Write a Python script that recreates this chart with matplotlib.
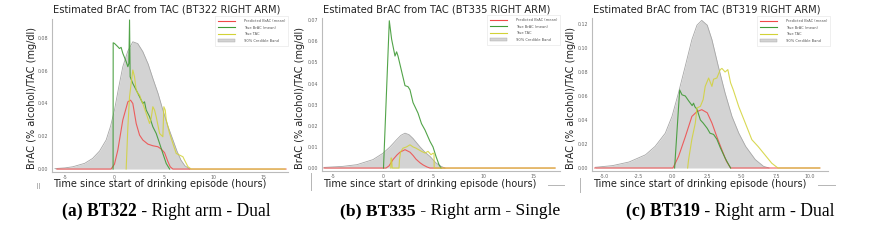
import matplotlib
matplotlib.use('Agg')
import matplotlib.pyplot as plt
from matplotlib.lines import Line2D
from matplotlib.patches import Patch
from matplotlib.ticker import FormatStrFormatter

# ---------------- data ----------------
subjects = ["BT322", "BT335", "BT319"]
captions_bold = ["(a) BT322", "(b) BT335", "(c) BT319"]
captions_rest = [" - Right arm - Dual", " - Right arm - Single", " - Right arm - Dual"]
legend_labels = ["Predicted BrAC (mean)", "True BrAC (mean)", "True TAC", "90% Credible Band"]

# BT322
band1_x = [-6.0, -5.0, -4.2, -3.0, -2.2, -1.5, -0.84, -0.4, 0.0, 0.4, 0.84, 1.35, 1.85, 2.35, 2.86, 3.4, 3.87, 4.4, 4.88, 5.4, 5.9, 6.3, 6.7, 7.1, 7.6]
band1_y = [0.0003, 0.0007, 0.0014, 0.0035, 0.0065, 0.011, 0.0177, 0.026, 0.036, 0.049, 0.0624, 0.072, 0.0776, 0.0765, 0.0716, 0.064, 0.0553, 0.046, 0.036, 0.026, 0.0177, 0.011, 0.0055, 0.002, 0.0]
red1_x = [-5.8, -0.34, 0.0, 0.34, 0.84, 1.35, 1.62, 1.85, 2.19, 2.53, 2.86, 3.37, 3.87, 4.38, 4.71, 5.05, 5.39, 5.62, 5.89, 17.3]
red1_y = [0.0, 0.0, 0.003, 0.0116, 0.0299, 0.041, 0.042, 0.040, 0.0278, 0.0207, 0.0177, 0.0152, 0.0142, 0.0136, 0.0122, 0.0100, 0.0045, 0.0014, 0.0, 0.0]
green1_x = [-0.14, -0.13, 0.0, 0.34, 0.5, 0.67, 0.84, 1.18, 1.35, 1.45, 1.52, 1.58, 1.85, 2.19, 2.53, 2.86, 3.03, 3.2, 3.54, 3.87, 4.21, 4.55, 4.88, 5.22, 5.56]
green1_y = [0.0, 0.077, 0.0766, 0.0746, 0.0735, 0.0742, 0.0706, 0.0655, 0.0624, 0.0644, 0.0909, 0.0563, 0.0522, 0.0482, 0.0441, 0.0400, 0.041, 0.0360, 0.0319, 0.0258, 0.0217, 0.0156, 0.0095, 0.0034, 0.0]
yellow1_x = [1.18, 1.35, 1.52, 1.68, 1.85, 2.02, 2.19, 2.36, 2.53, 2.69, 2.86, 3.2, 3.54, 3.7, 3.87, 4.04, 4.21, 4.55, 4.88, 4.98, 5.12, 5.22, 5.56, 5.89, 6.23, 6.57, 6.9, 7.07, 7.41, 7.74, 17.2]
yellow1_y = [0.0, 0.0254, 0.0441, 0.0522, 0.0604, 0.0563, 0.0482, 0.0461, 0.0451, 0.0421, 0.0400, 0.0339, 0.0278, 0.0309, 0.038, 0.036, 0.0319, 0.0217, 0.0197, 0.038, 0.036, 0.0299, 0.0217, 0.0156, 0.0095, 0.0085, 0.0075, 0.0054, 0.0014, 0.0, 0.0]

# BT335
band2_x = [-5.9, -4.0, -2.6, -1.0, 0.0, 0.7, 1.36, 1.8, 2.2, 2.6, 3.0, 3.7, 4.2, 4.7, 5.3, 5.8, 6.2]
band2_y = [0.0003, 0.0008, 0.0016, 0.004, 0.007, 0.010, 0.0134, 0.0155, 0.0165, 0.0158, 0.014, 0.010, 0.0075, 0.0055, 0.0024, 0.0008, 0.0]
red2_x = [-5.9, 0.3, 0.6, 1.0, 1.4, 1.7, 2.2, 2.7, 3.0, 3.3, 3.7, 4.0, 4.4, 4.7, 17.2]
red2_y = [0.0, 0.0, 0.001, 0.004, 0.0062, 0.0075, 0.0087, 0.0075, 0.006, 0.0042, 0.0025, 0.0015, 0.0005, 0.0, 0.0]
green2_x = [0.05, 0.63, 0.86, 1.2, 1.36, 1.5, 1.85, 2.2, 2.5, 2.7, 3.0, 3.5, 3.85, 4.2, 4.7, 5.0, 5.3, 5.6, 5.8]
green2_y = [0.0, 0.0697, 0.061, 0.053, 0.055, 0.053, 0.046, 0.039, 0.0385, 0.037, 0.031, 0.026, 0.021, 0.018, 0.0126, 0.010, 0.0055, 0.0016, 0.0]
yellow2_x = [0.78, 0.8, 0.86, 0.92, 1.6, 1.65, 1.75, 2.0, 2.35, 2.7, 3.0, 3.3, 3.85, 4.2, 4.5, 4.8, 5.0, 5.1, 5.12, 17.2]
yellow2_y = [0.0, 0.0047, 0.0047, 0.0, 0.0, 0.004, 0.0075, 0.0094, 0.010, 0.011, 0.010, 0.0094, 0.0079, 0.0071, 0.0079, 0.0063, 0.007, 0.007, 0.0, 0.0]

# BT319
band3_x = [-5.65, -4.4, -3.2, -2.0, -1.3, -0.56, -0.07, 0.4, 0.9, 1.38, 1.75, 2.1, 2.5, 2.84, 3.3, 3.8, 4.3, 4.8, 5.3, 6.0, 6.6, 7.0]
band3_y = [0.0006, 0.002, 0.005, 0.011, 0.018, 0.029, 0.043, 0.0625, 0.085, 0.107, 0.119, 0.123, 0.119, 0.107, 0.085, 0.0625, 0.043, 0.029, 0.018, 0.007, 0.0014, 0.0]
red3_x = [-5.7, 0.0, 0.17, 0.41, 0.9, 1.38, 1.75, 2.1, 2.5, 2.84, 3.2, 3.57, 3.9, 4.2, 10.7]
red3_y = [0.0, 0.0, 0.004, 0.0097, 0.026, 0.043, 0.047, 0.0486, 0.046, 0.0375, 0.026, 0.015, 0.0056, 0.0, 0.0]
green3_x = [0.12, 0.49, 0.66, 0.9, 1.14, 1.4, 1.5, 1.6, 1.75, 2.0, 2.2, 2.5, 2.7, 2.96, 3.2, 3.45, 3.8, 4.05, 4.2]
green3_y = [0.0, 0.065, 0.061, 0.060, 0.056, 0.052, 0.054, 0.051, 0.049, 0.040, 0.0375, 0.033, 0.029, 0.028, 0.024, 0.017, 0.0083, 0.003, 0.0]
yellow3_x = [1.07, 1.14, 1.38, 1.63, 1.75, 2.0, 2.2, 2.35, 2.6, 2.84, 2.96, 3.2, 3.45, 3.57, 3.8, 4.0, 4.2, 4.4, 4.8, 5.27, 5.75, 6.2, 6.7, 7.2, 7.65, 10.7]
yellow3_y = [0.0, 0.007, 0.024, 0.0375, 0.050, 0.0514, 0.057, 0.068, 0.075, 0.068, 0.074, 0.075, 0.082, 0.083, 0.080, 0.082, 0.071, 0.065, 0.051, 0.0375, 0.0236, 0.018, 0.011, 0.004, 0.0, 0.0]

xticks1 = [-5, 0, 5, 10, 15]
xticks2 = [-5, 0, 5, 10, 15]
xticks3 = [-5, -2.5, 0, 2.5, 5, 7.5, 10]
yticks1 = [0.00, 0.02, 0.04, 0.06, 0.08]
yticks2 = [0.00, 0.01, 0.02, 0.03, 0.04, 0.05, 0.06, 0.07]
yticks3 = [0.00, 0.02, 0.04, 0.06, 0.08, 0.10, 0.12]

series = [
    (band1_x, band1_y, red1_x, red1_y, green1_x, green1_y, yellow1_x, yellow1_y, xticks1, yticks1),
    (band2_x, band2_y, red2_x, red2_y, green2_x, green2_y, yellow2_x, yellow2_y, xticks2, yticks2),
    (band3_x, band3_y, red3_x, red3_y, green3_x, green3_y, yellow3_x, yellow3_y, xticks3, yticks3),
]

# ---------------- layout (pixels) ----------------
W, H = 876, 240
fig = plt.figure(figsize=(W / 100, H / 100), dpi=100)
fig.patch.set_facecolor('white')
renderer = fig.canvas.get_renderer()

def fx(px):
    return px / W

def fy(py):
    return 1 - py / H

# left, right, top, bottom (px), xlim, ylim, xtick fmt, ylabel x, legend right/top
panels = [
    dict(box=(52, 288, 19, 172), xlim=(-6.3, 17.5), ylim=(-0.0018, 0.0915), xfmt='%d', ylx=32, leg=(290, 14), capx=166),
    dict(box=(322, 560, 18, 171), xlim=(-6.1, 17.7), ylim=(-0.0014, 0.0710), xfmt='%d', ylx=300, leg=(562, 13), capx=449.5),
    dict(box=(592, 828, 18, 171), xlim=(-5.9, 11.3), ylim=(-0.0025, 0.125), xfmt='%.1f', ylx=571, leg=(832, 14), capx=730.5),
]
cap_widths = [208, 219, 209]

C_RED = '#f04848'
C_GREEN = '#3f9a35'
C_YEL = '#d2d236'
C_BAND = '#d3d3d3'
C_BAND_EDGE = '#a6a6a6'

def fit_width(t, target):
    bb = t.get_window_extent(renderer)
    t.set_fontsize(t.get_fontsize() * target / bb.width)

def fit_height(t, target):
    bb = t.get_window_extent(renderer)
    t.set_fontsize(t.get_fontsize() * target / bb.height)

for i, (p, s) in enumerate(zip(panels, series)):
    bx, by, rx, ry, gx, gy, yx, yy, xt, yt = s
    l, r, t, b = p['box']
    ax = fig.add_axes([fx(l), fy(b), (r - l) / W, (b - t) / H])
    ax.set_facecolor('white')
    ax.fill_between(bx, 0, by, color=C_BAND, lw=0, zorder=1)
    ax.plot(bx, by, color=C_BAND_EDGE, lw=0.6, zorder=2)
    ax.plot(rx, ry, color=C_RED, lw=0.8, alpha=0.85, zorder=3)
    ax.plot(gx, gy, color=C_GREEN, lw=0.8, alpha=0.9, zorder=4)
    ax.plot(yx, yy, color=C_YEL, lw=0.8, alpha=0.85, zorder=5)
    ax.set_xlim(*p['xlim'])
    ax.set_ylim(*p['ylim'])
    ax.set_xticks(xt)
    ax.set_yticks(yt)
    ax.xaxis.set_major_formatter(FormatStrFormatter(p['xfmt']))
    ax.yaxis.set_major_formatter(FormatStrFormatter('%.2f'))
    ax.tick_params(length=0, labelsize=3.4, colors='#666666', pad=2.5)
    for sp in ['top', 'right']:
        ax.spines[sp].set_visible(False)
    for sp in ['left', 'bottom']:
        ax.spines[sp].set_color('#bbbbbb')
        ax.spines[sp].set_linewidth(0.8)

    handles = [Line2D([], [], color=C_RED, lw=0.8),
               Line2D([], [], color=C_GREEN, lw=0.8),
               Line2D([], [], color=C_YEL, lw=0.8),
               Patch(facecolor=C_BAND, edgecolor=C_BAND_EDGE, lw=0.3)]
    leg = ax.legend(handles, legend_labels, loc='upper right',
                    bbox_to_anchor=(fx(p['leg'][0]), fy(p['leg'][1])),
                    bbox_transform=fig.transFigure, fontsize=2.6,
                    handlelength=4.5, handletextpad=2.5, labelspacing=0.7,
                    borderpad=0.9, frameon=True, fancybox=False)
    leg.get_frame().set_edgecolor('#dddddd')
    leg.get_frame().set_linewidth(0.4)
    for txt in leg.get_texts():
        txt.set_color('#555555')

    # title
    tt = fig.text(fx(l + 1), fy(10), f"Estimated BrAC from TAC ({subjects[i]} RIGHT ARM)",
                  ha='left', va='center', fontsize=8, color='#222222')
    fit_width(tt, 227)
    # x label
    xl = fig.text(fx(l + 1), fy(184), "Time since start of drinking episode (hours)",
                  ha='left', va='center', fontsize=8, color='#222222')
    fit_width(xl, 214)
    # y label
    yl = fig.text(fx(p['ylx']), fy(98), "BrAC (% alcohol)/TAC (mg/dl)", rotation=90,
                  ha='center', va='center', fontsize=8, color='#222222')
    fit_height(yl, 142)

    # caption
    cb = fig.text(0, fy(211), captions_bold[i], ha='left', va='center', fontsize=12,
                  fontweight='bold', family='Liberation Serif', color='black')
    cr = fig.text(0, fy(211), captions_rest[i], ha='left', va='center', fontsize=12,
                  family='Liberation Serif', color='black')
    w_total = cb.get_window_extent(renderer).width + cr.get_window_extent(renderer).width
    scale = cap_widths[i] / w_total
    cb.set_fontsize(12 * scale)
    cr.set_fontsize(12 * scale)
    wb = cb.get_window_extent(renderer).width
    x0 = p['capx'] - cap_widths[i] / 2
    cb.set_x(fx(x0))
    cr.set_x(fx(x0 + wb))

# small cropping remnants of neighbouring figures
frag = dict(color='#b5b5b5', lw=0.7, transform=fig.transFigure)
fig.add_artist(Line2D([fx(37), fx(37)], [fy(183), fy(188)], **frag))
fig.add_artist(Line2D([fx(39), fx(39)], [fy(183), fy(188)], **frag))
fig.add_artist(Line2D([fx(311), fx(311)], [fy(173), fy(190)], **frag))
fig.add_artist(Line2D([fx(548), fx(564)], [fy(185), fy(185)], **frag))
fig.add_artist(Line2D([fx(580), fx(580)], [fy(178), fy(192)], **frag))
fig.add_artist(Line2D([fx(818), fx(835)], [fy(185), fy(185)], **frag))

fig.savefig('out.png', dpi=100, facecolor='white')
